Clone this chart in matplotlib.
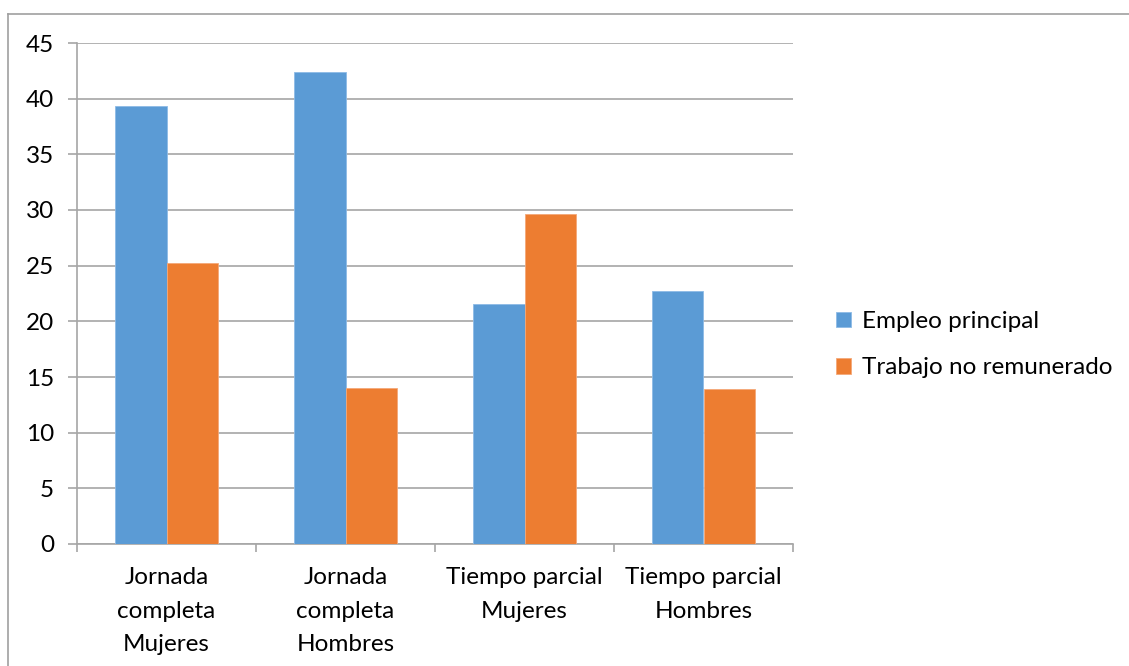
import numpy as np
import matplotlib.pyplot as plt
from matplotlib.lines import Line2D

plt.rcParams['font.family'] = ['Lato', 'DejaVu Sans']

# Hours per week by type of working day and sex
categories = ["Jornada\ncompleta\nMujeres", "Jornada\ncompleta\nHombres",
              "Tiempo parcial\nMujeres", "Tiempo parcial\nHombres"]
empleo_principal = [39.3, 42.4, 21.6, 22.7]
trabajo_no_remunerado = [25.2, 14.0, 29.6, 13.9]
yticks = [0, 5, 10, 15, 20, 25, 30, 35, 40, 45]

blue = "#5B9BD5"
orange = "#ED7D31"
grid_grey = "#A6A6A6"
fs = 17.5

fig = plt.figure(figsize=(11.29, 6.66), dpi=100)
ax = fig.add_axes([77 / 1129, 122 / 666, (793 - 77) / 1129, (544 - 43) / 666])

x = np.arange(len(categories))
w = 0.285
ax.bar(x - w / 2, empleo_principal, w, color=blue, edgecolor="#8DBBE6",
       linewidth=0.6, label="Empleo principal", zorder=3)
ax.bar(x + w / 2, trabajo_no_remunerado, w, color=orange, edgecolor="#F4A878",
       linewidth=0.6, label="Trabajo no remunerado", zorder=3)

ax.set_xlim(-0.5, len(categories) - 0.5)
ax.set_ylim(0, 45)
ax.set_yticks(yticks)
ax.yaxis.grid(True, color=grid_grey, linewidth=1.2)
ax.set_axisbelow(True)

# category labels sit between the boundary ticks
ax.set_xticks(x)
ax.set_xticklabels(categories, fontsize=fs, linespacing=1.75)
ax.tick_params(axis='x', length=0, pad=16.5)
ax.set_xticks(np.arange(-0.5, len(categories)), minor=True)
ax.tick_params(axis='x', which='minor', length=6, color=grid_grey, width=1.2)
ax.tick_params(axis='y', length=6.5, color=grid_grey, width=1.2, labelsize=fs, pad=10)

for s in ['top', 'right']:
    ax.spines[s].set_visible(False)
for s in ['left', 'bottom']:
    ax.spines[s].set_color(grid_grey)
    ax.spines[s].set_linewidth(1.2)

ax.legend(loc='center left', bbox_to_anchor=(1.03, 0.398), frameon=False,
          fontsize=fs, handlelength=0.6, handleheight=0.6, handletextpad=0.45,
          labelspacing=1.05)

# outer chart frame
fig.add_artist(Line2D([8 / 1129, 8 / 1129], [0, 1 - 13.5 / 666],
                      transform=fig.transFigure, color="#A0A0A0", linewidth=1.2))
fig.add_artist(Line2D([8 / 1129, 1], [1 - 13.5 / 666, 1 - 13.5 / 666],
                      transform=fig.transFigure, color="#A0A0A0", linewidth=1.2))

fig.savefig("out.png", dpi=100)
